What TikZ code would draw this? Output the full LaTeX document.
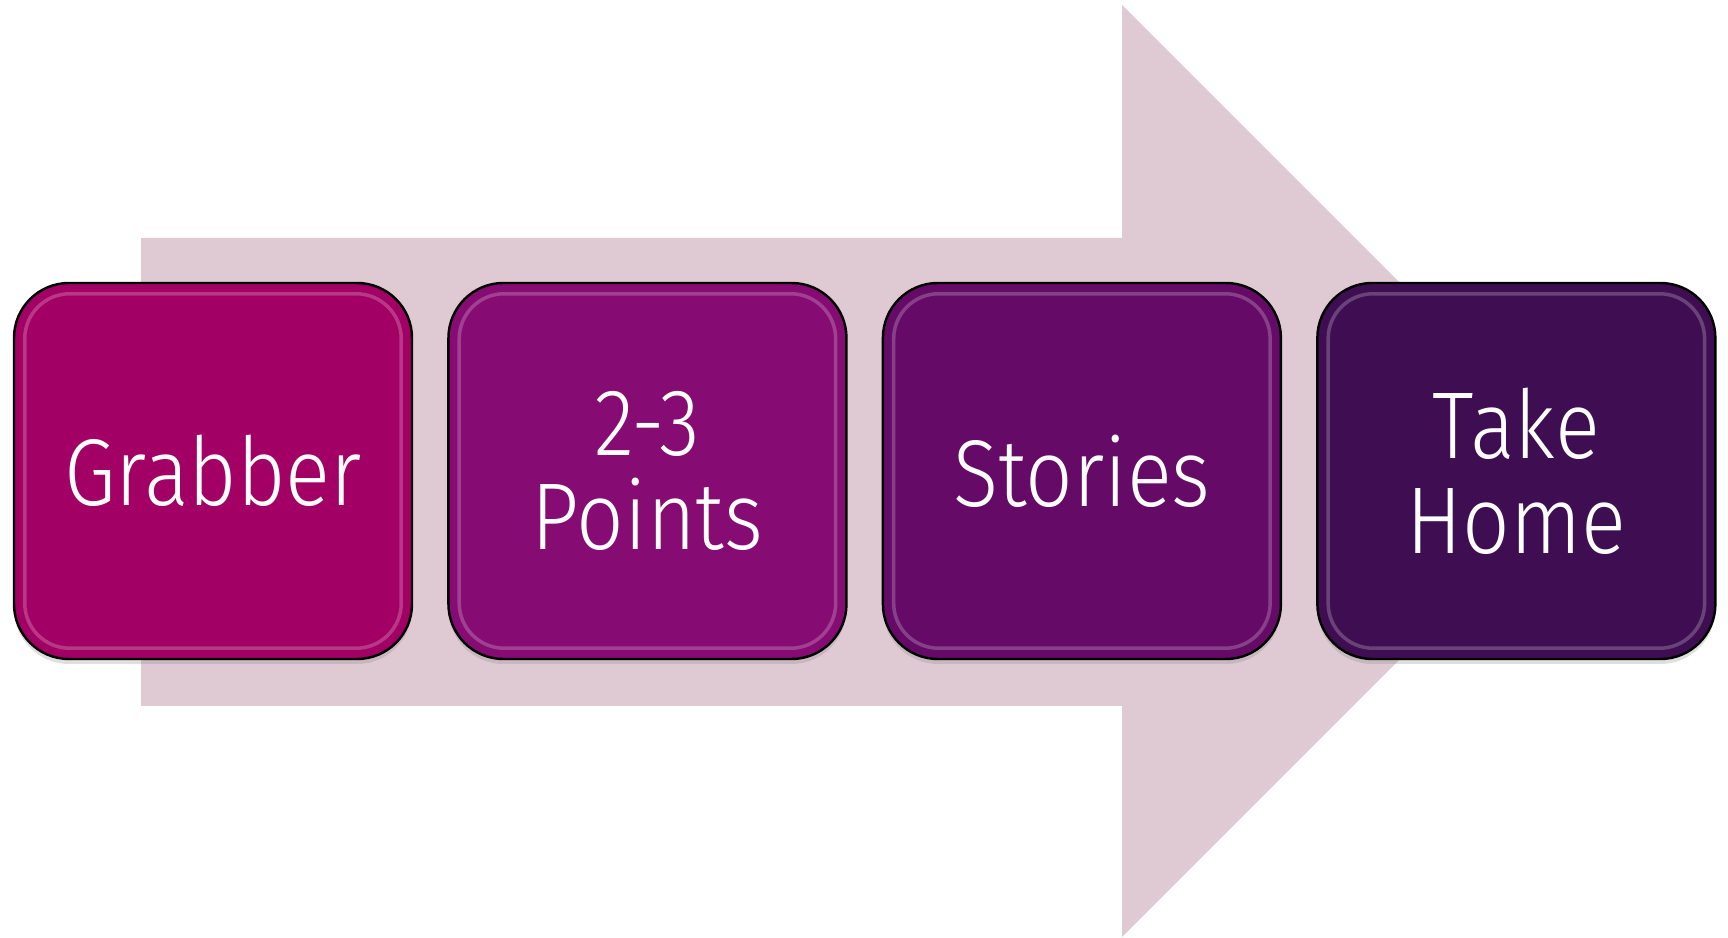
\documentclass[tikz,border=0pt]{standalone}
\usepackage{fontspec}
\setmainfont{Fira Sans}[UprightFont=* Light,FakeStretch=0.88]
\usetikzlibrary{positioning,shadows,calc}
\definecolor{arrowpink}{HTML}{DFCAD3}
\definecolor{grabcol}{HTML}{A30066}
\definecolor{pointcol}{HTML}{860B73}
\definecolor{storycol}{HTML}{650B67}
\definecolor{homecol}{HTML}{3F0E52}
\begin{document}
\begin{tikzpicture}[
            stepbox/.style={draw=black,line width=0.7pt,rounded corners=0.55cm,
              minimum width=3.98cm,minimum height=3.76cm,text=white,align=center,
              font=\fontsize{27}{27}\selectfont,
              drop shadow={opacity=0.25,shadow xshift=0cm,shadow yshift=-0.05cm}},
            glint/.style={white,opacity=0.22,line width=1pt,rounded corners=0.45cm},
            node distance=0.34cm
            ]
            \useasboundingbox (0,0) rectangle (17.28,9.38);
            % big arrow behind the steps
            \fill[arrowpink] (1.41,7.00) -- (11.22,7.00) -- (11.22,9.33) -- (15.88,4.67)
              -- (11.22,0.01) -- (11.22,2.32) -- (1.41,2.32) -- cycle;
            \node[stepbox,fill=grabcol] (grab) at (2.13,4.67) {Grabber};
            \node[stepbox,fill=pointcol,right=of grab] (points) {2-3\\Points};
            \node[stepbox,fill=storycol,right=of points] (stories) {Stories};
            \node[stepbox,fill=homecol,right=of stories] (home) {Take\\Home};
            % glossy rim inside each step
            \foreach \n in {grab,points,stories,home}
              \draw[glint] ($(\n.south west)+(0.12,0.12)$) rectangle ($(\n.north east)+(-0.12,-0.12)$);
        \end{tikzpicture}
\end{document}
